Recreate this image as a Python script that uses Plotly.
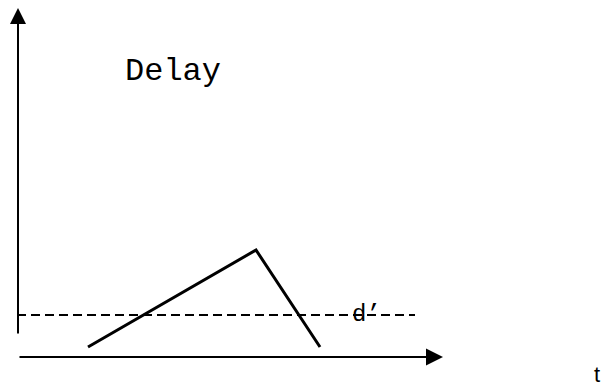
import plotly.graph_objects as go

# Data (t in px-like units from origin, delay in units above the t axis)
t_points = [70, 238, 302]
delay_points = [10, 107, 10]
threshold_label = "d\u2019"
threshold_value = 42
threshold_t_range = [-1, 397]
y_label = "Delay"
x_label = "t"

fig = go.Figure()

# dashed threshold line
fig.add_trace(go.Scatter(
    x=threshold_t_range, y=[threshold_value, threshold_value], mode="lines",
    line=dict(color="black", width=2, dash="9px,5px"), hoverinfo="skip"))

# delay curve
fig.add_trace(go.Scatter(
    x=t_points, y=delay_points, mode="lines",
    line=dict(color="black", width=3), hoverinfo="skip"))

# axes arrows
fig.add_annotation(x=425, y=0, ax=0, ay=0, xref="x", yref="y", axref="x", ayref="y",
                   showarrow=True, arrowhead=2, arrowsize=1.7, arrowwidth=2,
                   arrowcolor="black", text="")
fig.add_annotation(x=0, y=349, ax=0, ay=22, xref="x", yref="y", axref="x", ayref="y",
                   showarrow=True, arrowhead=2, arrowsize=1.6, arrowwidth=2,
                   arrowcolor="black", text="")

fig.add_annotation(x=155, y=286, xref="x", yref="y", text=y_label, showarrow=False,
                   font=dict(family="Liberation Mono", size=32, color="black"))
fig.add_annotation(x=348, y=43, xref="x", yref="y", text=threshold_label, showarrow=False,
                   font=dict(family="Liberation Mono", size=24, color="black"))
fig.add_annotation(x=579, y=-31, xref="x", yref="y", text=x_label, showarrow=False,
                   yanchor="bottom", borderpad=0,
                   font=dict(family="Liberation Sans", size=22, color="black"))

fig.update_layout(
    width=606, height=388, margin=dict(l=0, r=0, t=0, b=0),
    paper_bgcolor="white", plot_bgcolor="white", showlegend=False,
    xaxis=dict(range=[-18, 588], visible=False, fixedrange=True),
    yaxis=dict(range=[-31, 357], visible=False, fixedrange=True),
)

fig.write_html("out.html", config={"displayModeBar": False},
               post_script="document.body.style.margin='0';document.body.style.overflow='hidden';")
